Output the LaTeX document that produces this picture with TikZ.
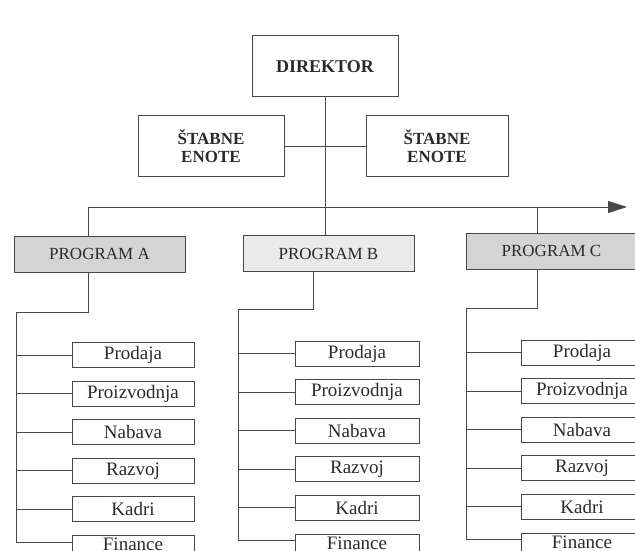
\documentclass[tikz,border=0pt]{standalone}
\usepackage{fontspec}
\setmainfont{Liberation Serif}
\usetikzlibrary{positioning,arrows.meta}
\definecolor{inkgrey}{HTML}{2A2A2A}
\definecolor{linegrey}{HTML}{474747}
\definecolor{progdark}{HTML}{D4D4D4}
\definecolor{proglight}{HTML}{EAEAEA}

\begin{document}
\begin{tikzpicture}[x=1pt,y=-1pt,
  box/.style={draw=linegrey, line width=1pt, text=inkgrey, inner sep=0pt},
  head/.style={box, font=\fontsize{17}{18}\selectfont\bfseries, minimum height=61pt, align=center},
  prog/.style={box, font=\fontsize{17}{19}\selectfont, minimum width=171pt, minimum height=36pt},
  unit/.style={box, font=\fontsize{19}{21}\selectfont, minimum height=25pt},
  link/.style={draw=linegrey, line width=1pt}]
  \useasboundingbox (0,0) rectangle (635,551);
  \clip (0,0) rectangle (635,551);

  % top of the chart
  \node[head, minimum width=146pt, font=\fontsize{18}{21}\selectfont\bfseries] (direktor) at (325,66.5) {DIREKTOR};
  \node[head, minimum width=146pt] (stabL) at (211,146) {ŠTABNE\\ENOTE};
  \node[head, minimum width=142pt] (stabR) at (437,146) {ŠTABNE\\ENOTE};

  \node[prog, fill=progdark] (progA) at (99.5,254) {PROGRAM A};
  \node[prog, fill=proglight] (progB) at (328.5,253.5) {PROGRAM B};
  \node[prog, fill=progdark] (progC) at (551.5,251) {PROGRAM C};

  \coordinate (busL) at (88,207);
  \coordinate (jC) at (537,207);
  \coordinate (busR) at (627,207);

  \draw[link] (stabL) -- (stabR);
  \draw[link] (direktor.south) -- (direktor.south |- progB.north);
  \draw[link, -{Triangle[length=19pt,width=12pt,fill=linegrey]}] (busL) -- (busR);
  \draw[link] (busL) -- (busL |- progA.north);
  \draw[link] (jC) -- (jC |- progC.north);

  % departments of each program
  \foreach \col/\dx/\ty/\bx/\ux/\uw/\uy in {A/88/312/16/133/122/355,
      B/313/309/238/357/124/353.5, C/537/308/466/582/122/352.5} {
    \node[unit, minimum width=\uw pt] (\col1) at (\ux,\uy) {Prodaja};
    \node[unit, minimum width=\uw pt, below=12.6pt of \col1] (\col2) {Proizvodnja};
    \node[unit, minimum width=\uw pt, below=12.6pt of \col2] (\col3) {Nabava};
    \node[unit, minimum width=\uw pt, below=12.6pt of \col3] (\col4) {Razvoj};
    \node[unit, minimum width=\uw pt, below=12.6pt of \col4] (\col5) {Kadri};
    \node[unit, minimum width=\uw pt, text depth=7pt, below=12.6pt of \col5] (\col6) {Finance};

    \coordinate (drop\col) at (\dx,\ty);
    \coordinate (turn\col) at (\bx,\ty);
    \coordinate (end\col) at ([yshift=-7pt]\col6.north west);
    \draw[link] (prog\col.south -| drop\col) -- (drop\col) -- (turn\col)
      -- (turn\col |- end\col) -- (end\col);
    \foreach \k in {1,...,5}
      \draw[link] (turn\col |- \col\k.west) -- (\col\k.west);
  }
\end{tikzpicture}
\end{document}
